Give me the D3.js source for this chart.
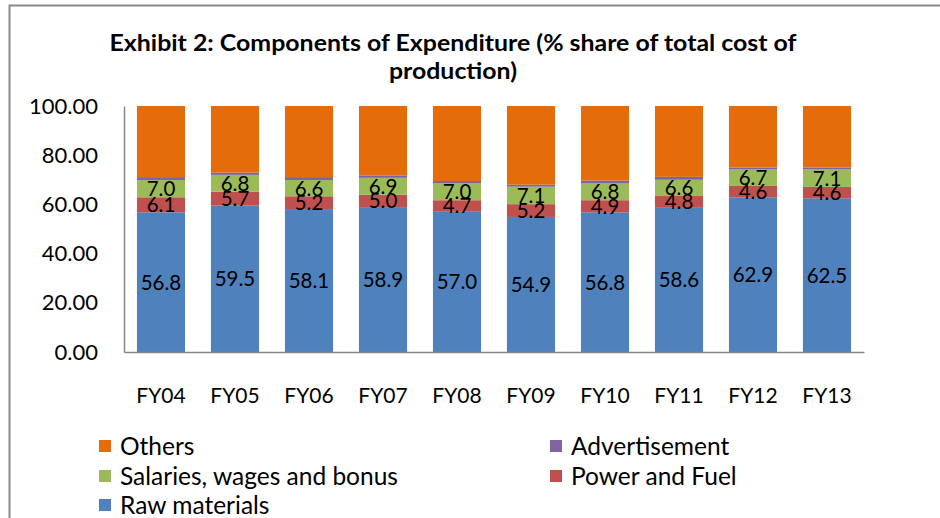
<!DOCTYPE html>
<html><head><meta charset="utf-8">
<script src="https://cdn.jsdelivr.net/npm/d3@7"></script>
<style>body{margin:0;background:#fff;} svg{display:block;font-family:"Lato","Open Sans",sans-serif;}</style>
</head><body><svg id="c" width="940" height="518"></svg>
<script>
const categories = ["FY04","FY05","FY06","FY07","FY08","FY09","FY10","FY11","FY12","FY13"];
const rawMaterials = [56.8,59.5,58.1,58.9,57.0,54.9,56.8,58.6,62.9,62.5];
const powerFuel = [6.1,5.7,5.2,5.0,4.7,5.2,4.9,4.8,4.6,4.6];
const salaries = [7.0,6.8,6.6,6.9,7.0,7.1,6.8,6.6,6.7,7.1];
const advertisement = [1.2,0.9,1.2,1.0,0.8,0.8,1.2,1.2,0.8,0.8];
const others = categories.map((c,i)=>+(100-rawMaterials[i]-powerFuel[i]-salaries[i]-advertisement[i]).toFixed(1));
const yTicks = [0,20,40,60,80,100];
const seriesNames = ["Raw materials","Power and Fuel","Salaries, wages and bonus","Advertisement","Others"];
const seriesColors = ["#4F81BD","#C0504D","#9BBB59","#8064A2","#E46C0A"];
const labelled = [true,true,true,false,false];

const svg = d3.select("#c");
// outer border
svg.append("path").attr("d","M9.5,520 V5.5 H945").attr("fill","none").attr("stroke","#898989").attr("stroke-width",2);

// title
svg.append("text").attr("x",453).attr("y",51).attr("text-anchor","middle").attr("font-weight","bold").attr("font-size",23).attr("fill","#000")
  .attr("textLength",687).attr("lengthAdjust","spacingAndGlyphs").text("Exhibit 2: Components of Expenditure (% share of total cost of");
svg.append("text").attr("x",453).attr("y",79).attr("text-anchor","middle").attr("font-weight","bold").attr("font-size",23).attr("fill","#000")
  .attr("textLength",128).attr("lengthAdjust","spacingAndGlyphs").text("production)");

const rows = categories.map((c,i)=>({cat:c, s0:rawMaterials[i], s1:powerFuel[i], s2:salaries[i], s3:advertisement[i], s4:others[i]}));
const stack = d3.stack().keys(["s0","s1","s2","s3","s4"])(rows);

const x = d3.scaleBand().domain(categories).range([124,864]).paddingInner(0.35).paddingOuter(0.175);
const y = d3.scaleLinear().domain([0,100]).range([352,106]);

stack.forEach((layer,k)=>{
  svg.append("g").selectAll("rect").data(layer).join("rect")
    .attr("x",d=>x(d.data.cat)).attr("width",x.bandwidth())
    .attr("y",d=>y(d[1])).attr("height",d=>y(d[0])-y(d[1]))
    .attr("fill",seriesColors[k]);
});
stack.forEach((layer,k)=>{
  if(!labelled[k]) return;
  svg.append("g").selectAll("text").data(layer).join("text")
    .attr("x",d=>x(d.data.cat)+x.bandwidth()/2)
    .attr("y",d=>y((d[0]+d[1])/2))
    .attr("dy","0.36em").attr("text-anchor","middle").attr("font-size",20.5).attr("fill","#000")
    .text(d=>(d[1]-d[0]).toFixed(1));
});

// axes
const yAxis = svg.append("g").attr("transform","translate(124,0)")
  .call(d3.axisLeft(y).tickValues(yTicks).tickSize(0).tickPadding(26).tickFormat(d3.format(".2f")));
yAxis.select(".domain").attr("stroke","#868686").attr("stroke-width",1.5);
yAxis.selectAll("text").attr("font-size",22).attr("fill","#000").attr("font-family","Lato, sans-serif");

const xAxis = svg.append("g").attr("transform","translate(0,352)")
  .call(d3.axisBottom(x).tickSize(0).tickPadding(36));
xAxis.select(".domain").attr("stroke","#868686").attr("stroke-width",1.5);
xAxis.selectAll("text").attr("font-size",21).attr("fill","#000").attr("font-family","Lato, sans-serif");

// legend
const legendItems = [
  {name:"Others", k:4, col:0, row:0},
  {name:"Advertisement", k:3, col:1, row:0},
  {name:"Salaries, wages and bonus", k:2, col:0, row:1},
  {name:"Power and Fuel", k:1, col:1, row:1},
  {name:"Raw materials", k:0, col:0, row:2}
];
const lg = svg.append("g");
const colX = [99,550], rowY = [446,476,505];
legendItems.forEach(it=>{
  lg.append("rect").attr("x",colX[it.col]).attr("y",rowY[it.row]-6).attr("width",12).attr("height",12).attr("fill",seriesColors[it.k]);
  lg.append("text").attr("x",colX[it.col]+21).attr("y",rowY[it.row]).attr("dy","0.36em").attr("font-size",24.5).attr("fill","#000").text(it.name);
});
</script></body></html>
